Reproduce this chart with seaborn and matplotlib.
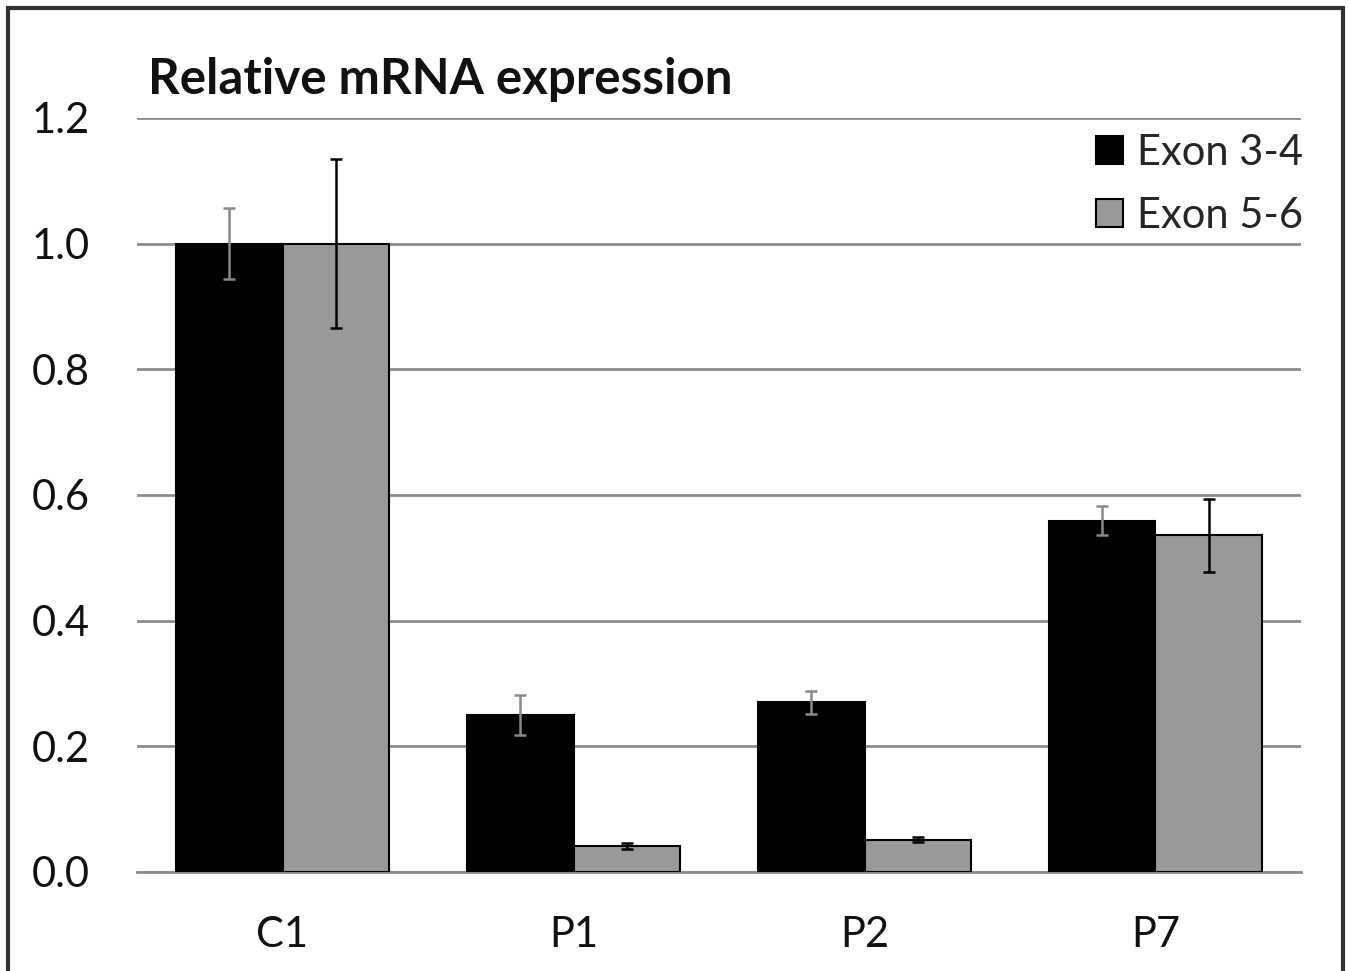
import matplotlib
matplotlib.use("Agg")
import matplotlib.pyplot as plt
import matplotlib.patches as mpatches
import seaborn as sns
import pandas as pd

# values
samples = ['C1', 'P1', 'P2', 'P7']
exon34 = [1.0, 0.25, 0.27, 0.559]
exon34_err = [0.057, 0.032, 0.018, 0.023]
exon56 = [1.0, 0.041, 0.051, 0.536]
exon56_err = [0.135, 0.005, 0.004, 0.058]
series = ['Exon 3-4', 'Exon 5-6']
colors = ['#000000', '#999999']
err_colors = ['#8a8a8a', '#000000']

df = pd.DataFrame({
    'sample': samples * 2,
    'value': exon34 + exon56,
    'err': exon34_err + exon56_err,
    'series': [series[0]] * 4 + [series[1]] * 4,
})

sns.set_style('white')
plt.rcParams['font.family'] = ['Lato', 'DejaVu Sans']

fig = plt.figure(figsize=(13.49, 9.71), dpi=100)
ax = fig.add_axes([0.1016, 0.102, 0.8628, 0.7765])

sns.barplot(data=df, x='sample', y='value', hue='series', order=samples,
            hue_order=series, palette=colors, width=0.73, errorbar=None,
            edgecolor='black', linewidth=1.5, saturation=1, ax=ax, zorder=3)

# error bars placed at bar centres
bar_conts = list(ax.containers)
for i, cont in enumerate(bar_conts):
    vals = exon34 if i == 0 else exon56
    errs = exon34_err if i == 0 else exon56_err
    xs = [b.get_x() + b.get_width() / 2 for b in cont.patches]
    ax.errorbar(xs, vals, yerr=errs, fmt='none', ecolor=err_colors[i],
                elinewidth=1.8, capsize=4, capthick=1.8, zorder=4)

ax.set_ylim(0, 1.2)
ax.set_xlim(-0.5, 3.5)
ax.set_yticks([0, 0.2, 0.4, 0.6, 0.8, 1.0, 1.2])
ax.set_yticklabels(['0.0', '0.2', '0.4', '0.6', '0.8', '1.0', '1.2'])
ax.yaxis.grid(True, color='#8c8c8c', linewidth=2.0, zorder=0)
ax.set_axisbelow(True)
for s in ['left', 'right', 'top']:
    ax.spines[s].set_visible(False)
ax.spines['bottom'].set_color('#8c8c8c')
ax.spines['bottom'].set_linewidth(2.0)
ax.tick_params(axis='y', length=0, pad=34, labelsize=30, colors='#111111')
ax.tick_params(axis='x', length=0, pad=32, labelsize=30, colors='#111111')
ax.set_xlabel('')
ax.set_ylabel('')

handles = [mpatches.Patch(facecolor=c, edgecolor='black', linewidth=1.5) for c in colors]
ax.legend(handles, series, loc='upper right', bbox_to_anchor=(1.027, 1.018),
          frameon=False, fontsize=30, handlelength=0.65, handleheight=0.65,
          handletextpad=0.35, labelspacing=0.6, borderaxespad=0.3)

fig.text(0.1097, 0.918, 'Relative mRNA expression', fontsize=35.5,
         fontweight='bold', ha='left', va='center', color='#111111')

# outer frame around the figure
frame = mpatches.Rectangle((8 / 1349, -0.02), 1335 / 1349, 1.0 - 8 / 971 + 0.02,
                           transform=fig.transFigure, fill=False,
                           edgecolor='#333333', linewidth=3, clip_on=False)
fig.patches.append(frame)

fig.savefig('out.png', dpi=100)
